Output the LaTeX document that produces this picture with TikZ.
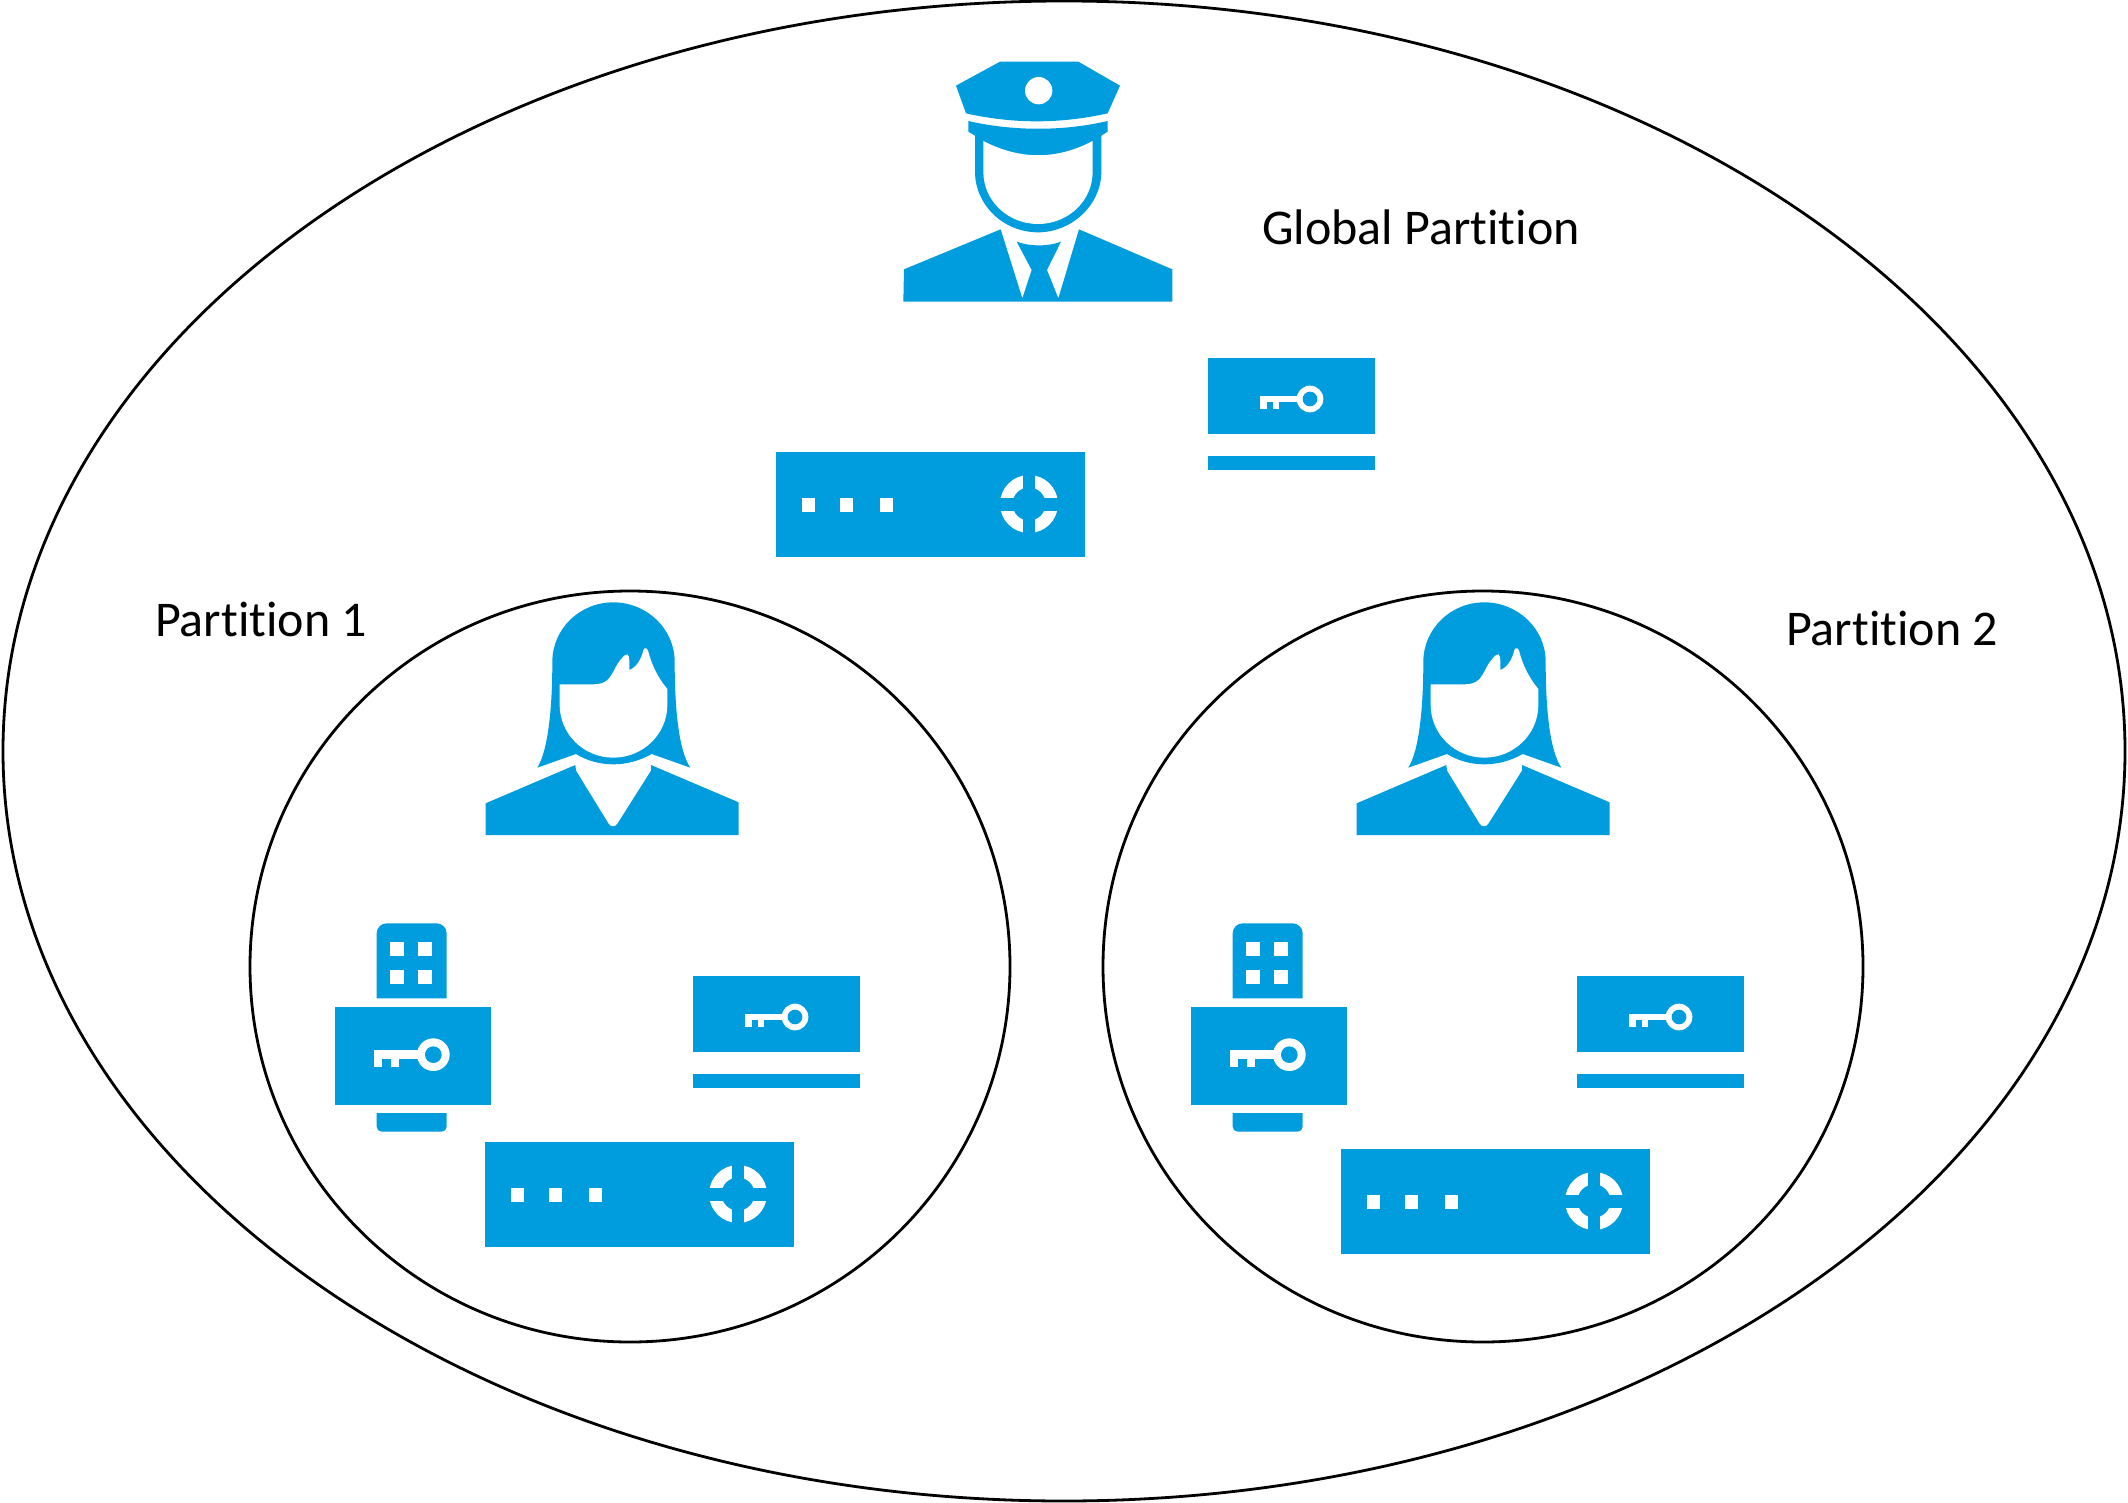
\documentclass[tikz,border=0pt]{standalone}
\usepackage{fontspec}
\setmainfont{Carlito}[Ligatures=NoCommon]
\definecolor{iconblue}{HTML}{009DDE}
\tikzset{
    ring/.style={draw=black,line width=2.8pt},
    plabel/.style={font=\fontsize{50}{56}\selectfont,inner sep=0pt},
    officer/.pic={
        \begin{scope}[scale=1/3]
        \fill[iconblue](360,65)--(595,65)--(720,137)--(683,220)..controls(540,252)and(400,252)..(258,220)--(228,137)--cycle;
        \fill[white](476,152)circle[radius=41];
        \fill[iconblue](265,243)..controls(400,274)and(550,274)..(683,243)--(683,275)--(664,287)--(664,395)..controls(664,495)and(575,577)..(474.5,577)..controls(370,577)and(285,495)..(285,395)--(285,287)--(265,275)--cycle;
        \fill[white](310,303)..controls(420,360)and(530,360)..(638,303)--(638,395)..controls(638,482)and(565,552)..(474,552)..controls(383,552)and(310,482)..(310,395)--cycle;
        \fill[iconblue](72,688)--(362,568)--(427,775)--(455,690)--(410,605)..controls(450,620)and(505,620)..(543,605)--(501,690)--(535,775)--(597,568)--(877,688)--(877,785)--(70,785)--cycle;
        \end{scope}
    },
    lady/.pic={
        \begin{scope}[scale=1/3]
        \fill[iconblue](202,533)..controls(235,480)and(247,350)..(247,215)..controls(247,117)and(329,37)..(430,37)..controls(531,37)and(614,117)..(614,215)..controls(614,350)and(625,480)..(661,533)--(545,492)..controls(510,512)and(470,523)..(430,523)..controls(390,523)and(350,512)..(318,492)--cycle;
        \fill[white](269,283)--(370,283)..controls(410,283)and(420,265)..(435,235)..controls(445,215)and(465,190)..(473,193)..controls(480,200)and(478,225)..(478,240)..controls(500,232)and(515,205)..(520,180)..controls(525,170)and(532,175)..(535,185)..controls(545,225)and(565,265)..(592,297)--(592,345)..controls(592,432)and(519,503)..(430,503)..controls(341,503)and(269,432)..(269,345)--cycle;
        \fill[iconblue](47,640)--(316,525)--(318,542)--(415,700)..controls(420,712)and(438,712)..(443,700)--(543,542)--(543,525)--(806,637)--(806,735)--(47,735)--cycle;
        \end{scope}
    },
    tokenkey/.pic={
        \begin{scope}[scale=1/3]
        \fill[iconblue,rounded corners=10pt](170,265)--(170,40)--(380,40)--(380,265);
        \foreach \wx in {211,295}{
            \foreach \wy in {97,181}{
                \fill[white](\wx,\wy)rectangle++(42,42);
            }
        }
        \fill[iconblue](46,290)rectangle(513,584);
        \fill[iconblue,rounded corners=5pt](170,609)--(170,665)--(380,665)--(380,609);
        \fill[white](162,421)rectangle(300,446);
        \fill[white](162,446)rectangle(187,472);
        \fill[white](212,446)rectangle(237,472);
        \fill[white](340,434)circle[radius=49];
        \fill[iconblue](340,434)circle[radius=25];
        \end{scope}
    },
    keycard/.pic={
        \begin{scope}[scale=1/3]
        \fill[iconblue](39,49)rectangle(540,276);
        \fill[iconblue](39,343)rectangle(540,383);
        \fill[white](195,162)rectangle(310,180);
        \fill[white](195,180)rectangle(215,200);
        \fill[white](233,180)rectangle(253,200);
        \fill[white](345,171)circle[radius=40];
        \fill[iconblue](345,171)circle[radius=22];
        \end{scope}
    },
    hsmbox/.pic={
        \fill[iconblue](0,0)rectangle(309,105);
        \foreach \sx in {32,70.5,110}{
            \fill[white](\sx-6.5,45.5)rectangle++(13,14.5);
        }
        \fill[white](253,52)circle[radius=29];
        \fill[iconblue](253,52)circle[radius=16.5];
        \fill[iconblue](246.7,20)rectangle(259.3,84);
        \fill[iconblue](221,45.5)rectangle(285,59);
    }
}
\begin{document}
\begin{tikzpicture}[x=1pt,y=-1pt]
    \useasboundingbox(0,0)rectangle(2128,1503);
    % partitions
    \draw[ring](1064,751)ellipse[x radius=1061,y radius=750];
    \draw[ring](630,966.5)ellipse[x radius=380,y radius=375.5];
    \draw[ring](1483,966.5)ellipse[x radius=380,y radius=375.5];
    \node[plabel](global)at(1421,227){Global Partition};
    \node[plabel](part1)at(261,619){Partition 1};
    \node[plabel](part2)at(1892,628){Partition 2};
    % global partition
    \pic at(880,40){officer};
    \pic at(1195,342){keycard};
    \pic at(776,452){hsmbox};
    % partition 1
    \pic at(470,590){lady};
    \pic at(320,910){tokenkey};
    \pic at(680,960){keycard};
    \pic at(485,1142){hsmbox};
    % partition 2
    \pic at(1341,590){lady};
    \pic at(1176,910){tokenkey};
    \pic at(1564,960){keycard};
    \pic at(1341,1149){hsmbox};
\end{tikzpicture}
\end{document}
